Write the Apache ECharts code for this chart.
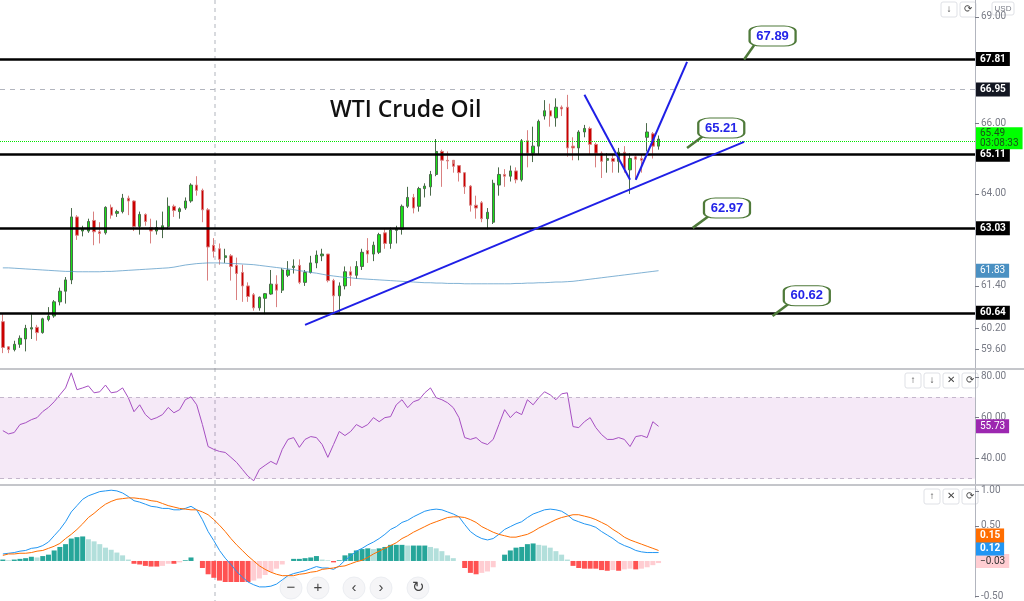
<!DOCTYPE html>
<html>
<head>
<meta charset="utf-8">
<script src="https://cdn.jsdelivr.net/npm/echarts@6/dist/echarts.min.js"></script>
<style>
html,body{margin:0;padding:0;background:#fff}
#chart{width:1024px;height:601px}
</style>
</head>
<body>
<div id="chart"></div>
<script>
// candles: [open, close, low, high]
var candles = [
  [60.39,59.66,59.5,60.6],[59.68,59.6,59.5,59.7],[59.6,59.75,59.55,59.85],[59.75,59.92,59.65,60.0],
  [59.9,60.2,59.55,60.3],[60.18,60.22,59.9,60.6],[60.23,60.08,59.85,60.3],[60.08,60.47,60.05,60.5],
  [60.45,60.55,60.4,60.8],[60.55,60.95,60.5,61.0],[60.95,61.25,60.85,61.35],[61.25,61.57,60.9,61.65],
  [61.57,63.35,61.45,63.6],[63.35,62.83,62.7,63.4],[62.95,63.0,62.8,63.1],[62.95,63.22,62.9,63.3],
  [63.25,62.93,62.55,63.5],[62.93,62.88,62.6,63.2],[62.9,63.62,62.85,63.65],[63.62,63.4,63.3,63.7],
  [63.45,63.5,63.35,63.55],[63.5,63.88,63.45,64.0],[63.88,63.8,63.4,63.95],[63.8,63.08,62.95,63.82],
  [63.08,63.42,62.85,63.5],[63.42,63.22,63.1,63.45],[63.05,62.95,62.6,63.3],[62.95,63.05,62.85,63.25],
  [63.0,63.1,62.75,63.5],[63.08,63.65,63.0,63.9],
  [63.65,63.53,63.35,63.7],[63.5,63.58,63.3,63.62],[63.6,63.8,63.55,63.9],[63.8,64.25,63.75,64.3],
  [64.25,64.1,63.95,64.5],[64.1,63.55,63.2,64.15],[63.55,62.5,61.55,63.6],[62.55,62.38,62.2,62.75],
  [62.45,62.15,62.0,62.6],[62.2,62.25,62.05,62.45],[62.25,61.95,61.55,62.3],[61.98,61.75,61.0,62.2],
  [61.78,61.4,60.95,62.0],[61.4,61.1,60.95,61.5],[61.15,60.78,60.7,61.2],[60.78,61.08,60.7,61.1],
  [61.05,61.18,60.6,61.2],[61.17,61.45,61.15,61.85],[61.45,61.28,60.8,61.7],[61.28,61.85,61.2,61.9],
  [61.7,61.85,61.65,62.1],[61.92,61.96,61.75,62.15],[61.98,61.5,61.45,62.15],[61.5,61.78,61.4,61.85],
  [61.78,62.05,61.75,62.25],[62.05,62.27,61.9,62.4],[62.25,62.3,62.1,62.45],[62.3,61.55,61.5,62.3],
  [61.55,61.12,60.6,61.6],[61.12,61.4,60.65,61.5],
  [61.4,61.8,61.3,61.95],[61.8,61.7,61.4,61.95],[61.7,61.95,61.6,62.1],[61.95,62.35,61.85,62.45],
  [62.4,62.3,62.05,62.75],[62.3,62.55,62.1,62.65],[62.35,62.85,62.3,62.9],[62.9,62.6,62.45,63.0],
  [62.6,62.98,62.45,63.05],[62.97,63.0,62.6,63.1],[63.0,63.65,62.85,63.7],[63.65,63.9,63.6,64.2],
  [63.9,63.6,63.45,64.0],[63.65,64.15,63.5,64.2],[64.15,64.22,63.9,64.3],[64.2,64.55,63.95,64.65],
  [64.55,65.2,64.5,65.55],[65.2,64.95,64.2,65.25],[64.95,64.93,64.7,65.2],[64.95,64.78,64.6,64.85],
  [64.8,64.6,64.35,64.8],[64.6,64.2,64.0,64.6],[64.22,63.68,63.5,64.25],[63.68,63.6,63.3,63.95],
  [63.75,63.3,63.2,63.8],[63.3,63.48,63.0,63.6],[63.2,64.3,63.15,64.4],
  [64.25,64.55,63.95,64.75],[64.55,64.5,64.2,64.7],[64.5,64.65,64.35,64.8],[64.65,64.4,64.3,64.75],
  [64.4,65.5,64.35,65.55],[65.5,65.15,64.75,65.8],[65.15,65.35,64.9,65.9],[65.35,66.05,65.1,66.1],
  [66.2,66.35,66.1,66.65],[66.35,66.2,65.9,66.55],[66.15,66.45,65.9,66.7],[66.45,66.4,66.2,66.5],
  [66.45,65.3,65.05,66.8],[65.35,65.3,64.95,65.6],[65.3,65.75,64.95,65.8],[65.75,65.85,65.6,65.95],
  [65.85,65.4,65.1,65.9],[65.4,65.15,64.75,65.45],[65.15,64.92,64.45,65.2],[64.95,65.0,64.6,65.15],
  [65.0,64.92,64.6,65.1],[64.92,65.18,64.6,65.3],[65.18,64.72,64.6,65.35],[64.68,65.0,64.0,65.15],
  [65.05,64.98,64.4,65.1],[65.0,64.95,64.6,65.1],[65.6,65.75,65.2,66.0],[65.7,65.35,65.0,65.75],
  [65.35,65.55,65.25,65.65]
];
var maLine = [
  61.91,61.91,61.90,61.89,61.88,61.87,61.86,61.85,61.84,61.83,61.82,61.81,61.81,61.80,61.80,
  61.80,61.80,61.80,61.81,61.81,61.82,61.83,61.84,61.85,61.86,61.87,61.88,61.89,61.90,61.91,
  61.93,61.96,61.99,62.01,62.03,62.04,62.05,62.05,62.05,62.04,62.03,62.03,62.02,
  62.01,62.00,61.98,61.96,61.94,61.92,61.90,61.88,61.86,61.83,61.81,61.78,61.76,61.73,61.70,61.68,
  61.66,61.64,61.63,61.61,61.60,61.59,61.58,61.57,61.56,61.55,61.54,61.53,61.52,61.51,61.50,61.49,61.49,61.48,61.48,61.47,61.47,
  61.47,61.46,61.46,61.46,61.46,61.46,61.46,61.46,61.46,61.46,61.47,61.47,61.48,61.48,61.49,61.49,61.50,61.51,61.51,61.52,
  61.53,61.55,61.57,61.59,61.61,61.63,61.65,61.67,61.69,61.71,61.73,61.75,61.77,61.79,61.81,61.83
];
var rsi = [
  53.6,52,52.7,56.6,57.5,59,60,63,65,67.8,71.2,74.6,82,73.7,74.6,75.6,72.2,72.7,76,72.2,
  72.7,74.6,69.8,62.9,66.3,61.5,59,60,61.5,65,62.4,63.9,68.8,70.2,66.3,56.6,45.8,44.4,43.4,42.9,
  40.5,38,34.6,31.2,29,34.6,36.6,38.5,37,44.4,49.3,50.2,45.4,49.3,50.7,50.2,46.8,40.5,46.8,53.2,
  51.2,53.2,56.6,55.1,56.6,60,58,60,60.5,66.3,68.8,64.9,67.8,68.8,72.2,74.6,69.8,68.8,67.3,64.9,
  60,50.2,49.3,50.2,47.8,46.8,49.3,56.6,63.9,60,62.9,61.5,68.8,66.3,69.8,72.7,71.2,68.8,71.7,72.2,
  55.6,55.1,58,60,55.1,51.7,49.3,49.3,50.2,49.3,45.8,50.7,51.2,50.2,58,55.73
];
var macd = [
  0.10,0.11,0.12,0.14,0.15,0.18,0.19,0.22,0.27,0.36,0.45,0.56,0.70,
  0.79,0.88,0.93,0.96,0.99,1.0,1.01,1.0,
  0.97,0.92,0.86,0.84,0.81,0.78,0.77,0.75,0.75,0.73,
  0.73,0.75,0.78,0.73,0.59,0.42,0.29,0.15,0.04,-0.05,
  -0.15,-0.23,-0.30,-0.34,-0.37,-0.37,-0.36,-0.33,-0.27,-0.21,
  -0.18,-0.16,-0.14,-0.11,-0.08,-0.10,-0.10,-0.12,-0.07,0.01,
  0.07,0.14,0.18,0.23,0.27,0.32,0.38,0.45,0.49,0.55,
  0.58,0.63,0.67,0.71,0.73,0.74,0.73,0.70,0.67,0.63,
  0.52,0.42,0.36,0.32,0.30,0.32,0.38,0.45,0.49,0.53,
  0.56,0.62,0.67,0.70,0.73,0.74,0.73,0.71,0.66,0.59,
  0.56,0.53,0.51,0.48,0.42,0.37,0.32,0.26,0.22,0.19,
  0.15,0.13,0.12,0.12,0.12
];
var signal = [
  0.08,0.10,0.10,0.11,0.11,0.12,0.14,0.15,0.18,0.21,0.25,0.32,0.38,
  0.45,0.53,0.62,0.68,0.75,0.81,0.85,0.88,
  0.89,0.90,0.90,0.89,0.88,0.86,0.85,0.82,0.79,0.77,
  0.75,0.74,0.73,0.73,0.70,0.66,0.59,0.51,0.42,0.32,
  0.23,0.15,0.07,0,-0.07,-0.12,-0.16,-0.19,-0.21,-0.21,
  -0.21,-0.19,-0.18,-0.16,-0.15,-0.12,-0.11,-0.10,-0.08,-0.07,
  -0.04,-0.01,0.01,0.05,0.10,0.14,0.18,0.22,0.26,0.32,
  0.36,0.41,0.45,0.49,0.53,0.56,0.59,0.62,0.63,0.63,
  0.62,0.59,0.55,0.49,0.45,0.41,0.38,0.36,0.34,0.34,
  0.36,0.38,0.42,0.47,0.51,0.55,0.59,0.62,0.64,0.66,
  0.66,0.64,0.62,0.59,0.55,0.51,0.45,0.40,0.34,0.30,
  0.27,0.24,0.21,0.18,0.15
];
var hist = [
  0.02,0.01,0.02,0.03,0.04,0.06,0.05,0.07,0.09,0.15,0.20,0.24,0.32,
  0.34,0.35,0.31,0.28,0.24,0.19,0.16,0.12,
  0.08,0.02,-0.04,-0.05,-0.07,-0.08,-0.08,-0.07,-0.04,-0.04,
  -0.02,0.01,0.05,0,-0.10,-0.19,-0.24,-0.28,-0.30,-0.30,
  -0.30,-0.30,-0.30,-0.28,-0.25,-0.20,-0.16,-0.11,-0.05,0,
  0.03,0.03,0.04,0.05,0.07,0.02,0.01,-0.02,0.01,0.08,
  0.11,0.15,0.17,0.18,0.17,0.18,0.20,0.23,0.23,0.23,
  0.22,0.22,0.22,0.22,0.20,0.18,0.14,0.08,0.04,0,
  -0.10,-0.17,-0.19,-0.17,-0.15,-0.09,0,0.09,0.15,0.19,
  0.20,0.24,0.25,0.23,0.22,0.19,0.14,0.09,0.02,-0.07,
  -0.10,-0.11,-0.11,-0.11,-0.13,-0.14,-0.13,-0.14,-0.12,-0.11,
  -0.12,-0.11,-0.09,-0.06,-0.03
];
var levels = [67.81, 65.11, 63.03, 60.64];
var priceTicks = [59.6, 60.2, 61.4, 64, 66, 69];
var callouts = [
  {text: '67.89', box: [135, 68.46], tip: [130, 67.80]},
  {text: '65.21', box: [126, 65.86], tip: [120, 65.30]},
  {text: '62.97', box: [127, 63.60], tip: [121, 63.04]},
  {text: '60.62', box: [141, 61.12], tip: [135, 60.55]}
];
var trendLines = [
  [[53, 60.30], [130, 65.47]],
  [[102, 66.80], [110, 64.40]],
  [[111, 64.40], [120, 67.73]]
];

var cats = [];
for (var i = 0; i < 171; i++) cats.push(i);

var chart = echarts.init(document.getElementById('chart'));
var axisTxt = {color: '#787b86', fontSize: 10, fontFamily: 'Roboto'};
var hidden = {color: 'rgba(0,0,0,0)', width: 0};

function tag(bg, fg) {
  return {show: true, position: 'end', distance: 1, backgroundColor: bg, color: fg,
    padding: [2, 4], fontSize: 10, fontFamily: 'Roboto', fontWeight: 'bold'};
}

var levelLines = levels.map(function (v) {
  return {yAxis: v, lineStyle: {color: '#000', width: 2.5, type: 'solid'},
    label: Object.assign(tag('#000', '#fff'), {formatter: v.toFixed(2)})};
});
levelLines.push({yAxis: 66.95, lineStyle: {color: '#b2b5be', width: 1, type: [5, 5]},
  label: Object.assign(tag('#131722', '#fff'), {formatter: '66.95'})});
levelLines.push({yAxis: 65.49, lineStyle: {color: '#00e600', width: 1, type: 'dotted'},
  label: Object.assign(tag('#00ff00', '#1a4d1a'), {formatter: '65.49\n03:08:33', fontWeight: 'normal',
    lineHeight: 10, padding: [1, 4], offset: [0, -3]})});

var lineItems = trendLines.map(function (t) {
  return [{coord: t[0], lineStyle: {color: '#1f1fe6', width: 2, type: 'solid'}, label: {show: false}},
          {coord: t[1]}];
});
callouts.forEach(function (c) {
  lineItems.push([{coord: c.tip, lineStyle: {color: '#4f7a3a', width: 2.5, type: 'solid'}, label: {show: false}},
                  {coord: [c.box[0] - 3, c.box[1] - 0.2]}]);
});

var histData = hist.map(function (v, i) {
  var prev = i > 0 ? hist[i - 1] : 0;
  var col = v >= 0 ? (v >= prev ? '#26a69a' : '#b2dfdb') : (v <= prev ? '#ff5252' : '#ffcdd2');
  return {value: v, itemStyle: {color: col}};
});

chart.setOption({
  animation: false,
  backgroundColor: '#fff',
  grid: [
    {left: 0, right: 49, top: 0, height: 368},
    {left: 0, right: 49, top: 370, height: 114},
    {left: 0, right: 49, top: 486, height: 115}
  ],
  xAxis: [0, 1, 2].map(function (g) {
    return {type: 'category', gridIndex: g, data: cats, show: false, boundaryGap: true};
  }),
  yAxis: [
    {gridIndex: 0, position: 'right', min: 59.08, max: 69.48, splitLine: {show: false},
      axisLine: {show: true, lineStyle: {color: '#b2b5be'}},
      axisTick: {show: true, length: 4, lineStyle: {color: '#787b86'}, customValues: priceTicks},
      axisLabel: Object.assign({customValues: priceTicks, formatter: function (v) { return v.toFixed(2); }, margin: 6}, axisTxt)},
    {gridIndex: 1, position: 'right', min: 27.4, max: 83.4, splitLine: {show: false},
      axisLine: {show: true, lineStyle: {color: '#b2b5be'}},
      axisTick: {show: true, length: 4, lineStyle: {color: '#787b86'}, customValues: [40, 60, 80]},
      axisLabel: Object.assign({customValues: [40, 60, 80], formatter: function (v) { return v.toFixed(2); }, margin: 6}, axisTxt)},
    {gridIndex: 2, position: 'right', min: -0.52, max: 1.07, splitLine: {show: false},
      axisLine: {show: true, lineStyle: {color: '#b2b5be'}},
      axisTick: {show: true, length: 4, lineStyle: {color: '#787b86'}, customValues: [-0.5, 0.5, 1]},
      axisLabel: Object.assign({customValues: [-0.5, 0.5, 1], formatter: function (v) { return v.toFixed(2); }, margin: 6}, axisTxt)}
  ],
  series: [
    {type: 'candlestick', xAxisIndex: 0, yAxisIndex: 0, data: candles, barMaxWidth: 4,
      itemStyle: {color: '#18e018', color0: '#cc0000', borderColor: '#4a6a4a', borderColor0: '#d98080', borderWidth: 1},
      markLine: {symbol: 'none', silent: true, data: levelLines.concat(lineItems)},
      markPoint: {symbol: 'roundRect', symbolSize: [46, 20], silent: true,
        itemStyle: {color: '#fff', borderColor: '#4f7a3a', borderWidth: 1.5},
        label: {color: '#2424e8', fontSize: 13, fontWeight: 'bold', fontFamily: 'Liberation Sans'},
        data: callouts.map(function (c) { return {coord: c.box, value: c.text}; })}},
    {type: 'line', xAxisIndex: 0, yAxisIndex: 0, data: maLine, symbol: 'none',
      lineStyle: {color: 'rgba(76,145,194,0.7)', width: 1},
      markLine: {symbol: 'none', silent: true, data: [{yAxis: 61.83, lineStyle: hidden,
        label: Object.assign(tag('#4a90c2', '#fff'), {formatter: '61.83', fontWeight: 'normal'})}]}},
    {type: 'line', xAxisIndex: 1, yAxisIndex: 1, data: rsi, symbol: 'none',
      lineStyle: {color: '#a64fc2', width: 1},
      markArea: {silent: true, itemStyle: {color: 'rgba(156,39,176,0.1)'}, data: [[{yAxis: 30}, {yAxis: 70}]]},
      markLine: {symbol: 'none', silent: true, data: [
        {yAxis: 70, lineStyle: {color: '#c4b6cc', type: [4, 4], width: 1}, label: {show: false}},
        {yAxis: 30, lineStyle: {color: '#c4b6cc', type: [4, 4], width: 1}, label: {show: false}},
        {yAxis: 55.73, lineStyle: hidden, label: Object.assign(tag('#9c27b0', '#fff'), {formatter: '55.73', fontWeight: 'normal'})}
      ]}},
    {type: 'bar', xAxisIndex: 2, yAxisIndex: 2, data: histData, barWidth: 5,
      markLine: {symbol: 'none', silent: true, data: [
        {yAxis: -0.03, lineStyle: hidden, label: Object.assign(tag('#ffcdd2', '#333'), {formatter: '−0.03', fontWeight: 'normal', offset: [0, -2]})}
      ]}},
    {type: 'line', xAxisIndex: 2, yAxisIndex: 2, data: macd, symbol: 'none',
      lineStyle: {color: '#2196f3', width: 1},
      markLine: {symbol: 'none', silent: true, data: [
        {yAxis: 0.12, lineStyle: hidden, label: Object.assign(tag('#2196f3', '#fff'), {formatter: '0.12', offset: [0, -4]})}
      ]}},
    {type: 'line', xAxisIndex: 2, yAxisIndex: 2, data: signal, symbol: 'none',
      lineStyle: {color: '#ff6d00', width: 1},
      markLine: {symbol: 'none', silent: true, data: [
        {yAxis: 0.15, lineStyle: hidden, label: Object.assign(tag('#ff6d00', '#fff'), {formatter: '0.15', offset: [0, -15]})}
      ]}}
  ],
  graphic: [
    {type: 'text', left: 330, top: 99, style: {text: 'WTI Crude Oil', fontSize: 23, fontWeight: 600, fontFamily: 'Open Sans', fill: '#111'}},
    {type: 'line', shape: {x1: 215, y1: 0, x2: 215, y2: 601}, style: {stroke: '#b2b5be', lineDash: [4, 4], lineWidth: 1}, silent: true},
    {type: 'line', shape: {x1: 0, y1: 369, x2: 1024, y2: 369}, style: {stroke: '#8a8d96', lineWidth: 1}},
    {type: 'line', shape: {x1: 0, y1: 485, x2: 1024, y2: 485}, style: {stroke: '#8a8d96', lineWidth: 1}},
    {type: 'group', children: [
      ['↓', 941, 2], ['⟳', 960, 2], ['↑', 905, 373], ['↓', 924, 373], ['✕', 943, 373], ['⟳', 962, 373],
      ['↑', 924, 489], ['✕', 943, 489], ['⟳', 962, 489]
    ].map(function (b) {
      return {type: 'rect', shape: {x: b[1], y: b[2], width: 16, height: 15, r: 2},
        style: {fill: '#fff', stroke: '#dfe1e6'},
        textContent: {style: {text: b[0], fill: '#444', fontSize: 10}}, textConfig: {position: 'inside'}};
    })},
    {type: 'rect', shape: {x: 992, y: 2, width: 22, height: 13, r: 2}, style: {fill: '#fff', stroke: '#dfe1e6'},
      textContent: {style: {text: 'USD', fill: '#787b86', fontSize: 8}}, textConfig: {position: 'inside'}},
    {type: 'group', children: [['−', 291], ['+', 318], ['‹', 354], ['›', 381], ['↻', 418]].map(function (b) {
      return {type: 'circle', shape: {cx: b[1], cy: 588, r: 11}, style: {fill: '#f5f5f7', stroke: '#eceef2'},
        textContent: {style: {text: b[0], fill: '#444', fontSize: 15}}, textConfig: {position: 'inside'}};
    })}
  ]
});
</script>
</body>
</html>
